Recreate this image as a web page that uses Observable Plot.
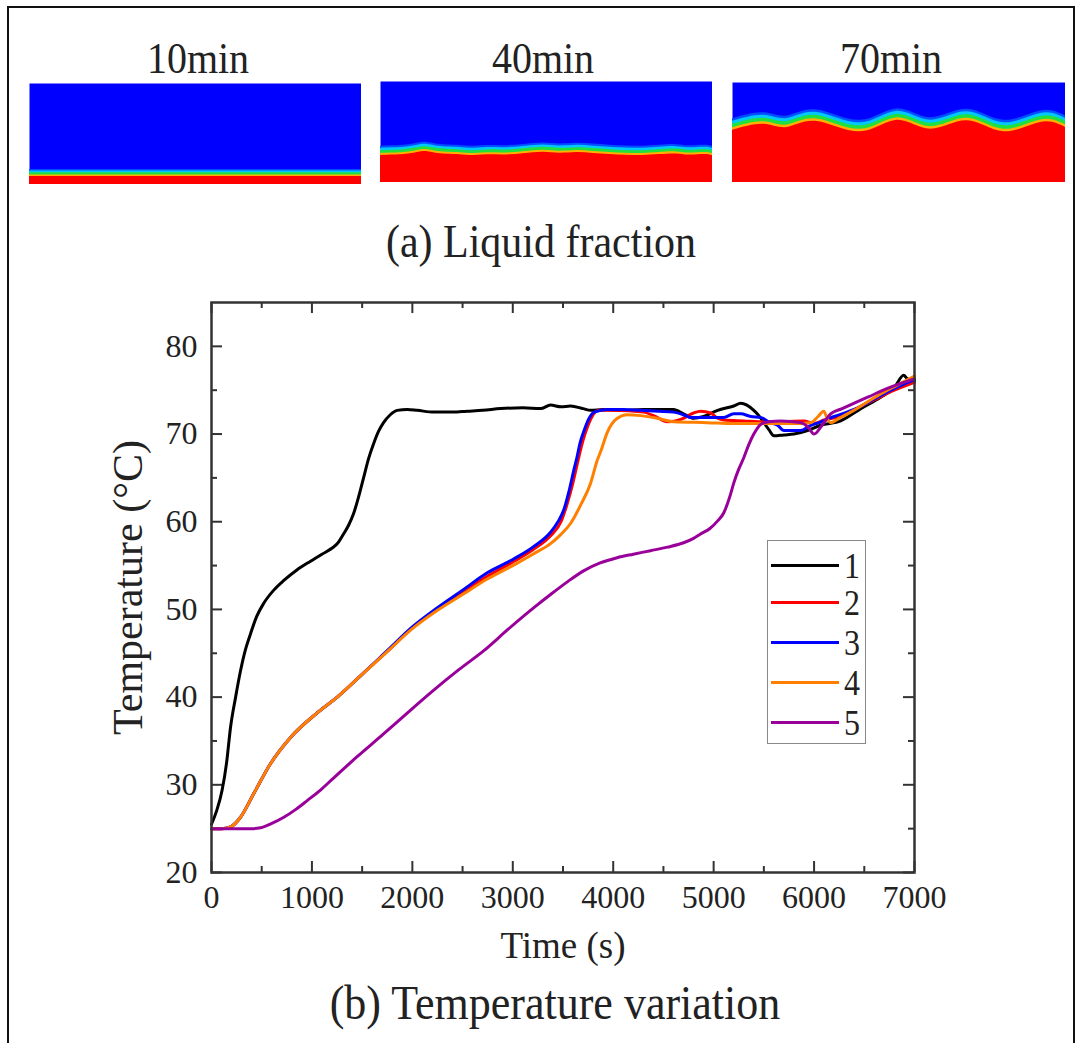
<!DOCTYPE html>
<html><head><meta charset="utf-8">
<script src="https://cdn.jsdelivr.net/npm/d3@7"></script>
<script src="https://cdn.jsdelivr.net/npm/@observablehq/plot@0.6"></script>
<style>
html,body{margin:0;padding:0;background:#fff;}
#page{position:relative;width:1083px;height:1043px;overflow:hidden;font-family:"Liberation Serif","Times New Roman",serif;color:#222;}
.border{position:absolute;left:7px;top:6px;width:1068px;height:1100px;border:2.5px solid #111;box-sizing:border-box;}
.lbl{position:absolute;transform:translate(-50%,-50%) scaleY(1.12);white-space:nowrap;line-height:1;}
.abs{position:absolute;}
</style></head><body><div id="page"><div class="border"></div></div>
<script>
// ---------- data: liquid fraction panels ----------
const panelTitles = ["10min", "40min", "70min"];
const front10X = [0, 1];
const front10H = [0.08, 0.08];
const front40X = [0, 0.04, 0.07, 0.10, 0.13, 0.16, 0.19, 0.23, 0.27, 0.32, 0.37, 0.43, 0.49, 0.54, 0.59, 0.64, 0.69, 0.74, 0.79, 0.84, 0.89, 0.93, 0.975, 1];
const front40H = [0.267, 0.272, 0.277, 0.29, 0.307, 0.295, 0.283, 0.276, 0.267, 0.275, 0.273, 0.285, 0.300, 0.29, 0.297, 0.288, 0.277, 0.27, 0.267, 0.276, 0.283, 0.272, 0.277, 0.267];
const front70X = [0, 0.094, 0.164, 0.254, 0.384, 0.495, 0.595, 0.705, 0.815, 0.925, 1];
const front70H = [0.523, 0.583, 0.55, 0.61, 0.507, 0.623, 0.533, 0.617, 0.507, 0.6, 0.55];
const bandWidth = [0.06, 0.08, 0.10];
const bandLayers = [
  {k: 1.15, color: "#0050ff"},
  {k: 0.9, color: "#00c8ff"},
  {k: 0.6, color: "#20e040"},
  {k: 0.25, color: "#ffb000"}
];

// ---------- data: temperature curves ----------
const seriesNames = ["1", "2", "3", "4", "5"];
const seriesColors = ["#000000", "#ff0000", "#0000ff", "#ff8000", "#990099"];

const t1 = [0,50,106,150,190,240,289,340,388,450,520,620,720,850,986,1100,1202,1260,1315,1365,1414,1464,1514,1564,1614,1663,1713,1780,1849,1950,2049,2213,2400,2546,2700,2878,3100,3277,3376,3480,3575,3700,3775,3900,4100,4300,4600,4700,4800,4900,5040,5200,5270,5400,5450,5500,5550,5600,5700,5800,5935,6066,6265,6465,6663,6800,6892,6930,7000];
const T1 = [25.5,27.0,29.4,32.5,36.6,40.0,43.0,45.5,47.2,49.2,50.7,52.2,53.3,54.5,55.5,56.3,57.0,57.6,58.6,59.6,60.9,62.8,65.0,67.2,68.9,70.3,71.3,72.2,72.7,72.8,72.7,72.5,72.5,72.6,72.7,72.9,73.0,72.9,73.3,73.1,73.2,72.9,72.7,72.8,72.7,72.8,72.8,72.3,71.8,72.0,72.7,73.2,73.5,72.7,72.1,71.3,70.5,69.8,69.9,70.0,70.4,71.0,71.5,72.9,74.2,75.3,76.7,76.3,76.1];

const t2 = [0,100,190,289,421,587,787,1052,1252,1500,1750,2000,2250,2500,2750,3000,3200,3376,3480,3540,3600,3650,3700,3750,3800,3860,4000,4300,4420,4538,4680,4800,4870,4970,5040,5100,5300,5500,5700,5896,6000,6100,6250,6400,6600,6800,7000];
const T2 = [25,25,25.2,26.3,29.0,32.4,35.4,38.2,40.0,42.6,45.2,47.9,50.0,51.9,53.8,55.4,56.8,58.4,60.0,62.0,64.5,67.0,69.3,71.0,72.2,72.7,72.7,72.5,72.0,71.4,71.7,72.4,72.6,72.4,71.8,71.6,71.5,71.4,71.4,71.5,71.2,71.6,72.0,72.8,73.9,75.0,75.9];

const t3 = [0,100,190,289,421,587,787,1052,1252,1500,1750,2000,2250,2500,2750,3000,3200,3376,3450,3506,3560,3606,3642,3670,3710,3760,3810,3941,4100,4273,4450,4600,4700,4770,4937,5100,5200,5270,5370,5468,5560,5637,5700,5866,5966,6050,6200,6400,6600,6800,7000];
const T3 = [25,25,25.2,26.3,29.0,32.4,35.4,38.2,40.0,42.6,45.3,48.0,50.2,52.2,54.2,55.7,57.1,58.8,60.0,61.3,63.5,65.8,67.5,69.0,70.4,71.8,72.5,72.8,72.8,72.7,72.6,72.5,72.2,71.9,71.9,71.9,72.3,72.3,72.0,71.9,71.3,71.0,70.4,70.4,71.0,71.3,72.0,72.8,74.0,75.2,76.2];

const t4 = [0,100,190,289,421,587,787,1052,1252,1500,1750,2000,2250,2500,2750,3000,3200,3376,3475,3575,3680,3775,3841,3875,3941,4041,4140,4273,4439,4600,4937,5200,5500,5800,5966,6040,6096,6130,6165,6250,6395,6550,6730,6900,7000];
const T4 = [25,25,25.2,26.3,29.0,32.4,35.4,38.2,40.0,42.6,45.2,47.8,49.9,51.7,53.5,55.0,56.3,57.5,58.5,59.8,62.0,64.4,67.0,68.0,70.2,71.8,72.2,72.1,71.8,71.4,71.3,71.2,71.2,71.2,71.3,72.0,72.6,71.8,71.3,71.8,72.7,73.8,75.0,76.0,76.6];

const t5 = [0,200,400,488,600,720,840,953,1085,1218,1450,1713,1960,2213,2460,2712,2960,3210,3376,3550,3705,3870,4039,4200,4372,4540,4701,4800,4870,4960,5040,5100,5139,5170,5200,5250,5300,5350,5400,5468,5550,5667,5866,5940,6000,6080,6165,6280,6395,6534,6730,6870,7000];
const T5 = [25,25,25,25.1,25.6,26.3,27.2,28.2,29.4,30.8,33.2,35.8,38.3,40.8,43.1,45.3,47.8,50.2,51.7,53.2,54.4,55.3,55.9,56.3,56.7,57.1,57.6,58.1,58.6,59.2,60.1,61.0,62.1,63.2,64.4,66.0,67.3,68.8,70.0,71.1,71.4,71.5,71.3,70.8,70.0,71.0,72.3,72.9,73.5,74.2,75.2,75.8,76.3];

const seriesT = [t1, t2, t3, t4, t5];
const seriesV = [T1, T2, T3, T4, T5];

const xMajor = [0,1000,2000,3000,4000,5000,6000,7000];
const xMinor = [500,1500,2500,3500,4500,5500,6500];
const yMajor = [20,30,40,50,60,70,80];
const yMinor = [25,35,45,55,65,75];

const page = document.getElementById("page");
function addLabel(text, cx, cy, size) {
  const d = document.createElement("div");
  d.className = "lbl";
  d.textContent = text;
  d.style.left = cx + "px"; d.style.top = cy + "px"; d.style.fontSize = size + "px";
  page.appendChild(d);
}

// ---------- panels ----------
const fronts = [[front10X, front10H], [front40X, front40H], [front70X, front70H]];
const panelBox = [[29, 83, 332, 101], [380, 81, 332, 101], [732, 82, 333, 100]];
const titleX = [198, 543, 891];
fronts.forEach(([xs, hs], i) => {
  const data = xs.map((x, j) => ({x, h: hs[j]}));
  const bw = bandWidth[i];
  const p = Plot.plot({
    width: panelBox[i][2], height: panelBox[i][3], margin: 0,
    x: {domain: [0, 1], axis: null}, y: {domain: [0, 1], axis: null},
    style: {background: "transparent"},
    marks: [
      Plot.frame({fill: "#0000ff", stroke: null}),
      ...bandLayers.map(L => Plot.areaY(data, {x: "x", y: d => d.h + L.k * bw, fill: L.color, curve: "natural"})),
      Plot.areaY(data, {x: "x", y: "h", fill: "#ff0000", curve: "natural"})
    ]
  });
  p.classList.add("abs");
  p.style.left = panelBox[i][0] + "px"; p.style.top = panelBox[i][1] + "px";
  page.appendChild(p);
  addLabel(panelTitles[i], titleX[i], 58, 40);
});
addLabel("(a) Liquid fraction", 541, 241, 42);

// ---------- temperature chart ----------
const rows = [];
seriesNames.forEach((s, i) => seriesT[i].forEach((t, j) => rows.push({s, t, T: seriesV[i][j]})));

const W = 1083, H = 720, mL = 211, mR = 169, mT = 22, mB = 128;
const iW = W - mL - mR, iH = H - mT - mB;
const axisColor = "#333";
const chart = Plot.plot({
  width: W, height: H, marginLeft: mL, marginRight: mR, marginTop: mT, marginBottom: mB,
  style: {fontFamily: "Liberation Serif, Times New Roman, serif", fontSize: "32px", color: "#222", background: "transparent", overflow: "visible"},
  x: {domain: [0, 7000]},
  y: {domain: [20, 85]},
  color: {domain: seriesNames, range: seriesColors},
  marks: [
    Plot.axisX({ticks: xMajor, tickSize: 0, tickPadding: 13, tickFormat: d => String(d), label: null}),
    Plot.axisY({ticks: yMajor, tickSize: 0, tickPadding: 14, tickFormat: d => String(d), label: null}),
    Plot.tickX(xMajor, {x: d => d, insetTop: iH - 11, stroke: axisColor, strokeWidth: 2}),
    Plot.tickX(xMajor, {x: d => d, insetBottom: iH - 11, stroke: axisColor, strokeWidth: 2}),
    Plot.tickX(xMinor, {x: d => d, insetTop: iH - 6, stroke: axisColor, strokeWidth: 2}),
    Plot.tickX(xMinor, {x: d => d, insetBottom: iH - 6, stroke: axisColor, strokeWidth: 2}),
    Plot.tickY(yMajor, {y: d => d, insetRight: iW - 11, stroke: axisColor, strokeWidth: 2}),
    Plot.tickY(yMajor, {y: d => d, insetLeft: iW - 11, stroke: axisColor, strokeWidth: 2}),
    Plot.tickY(yMinor, {y: d => d, insetRight: iW - 6, stroke: axisColor, strokeWidth: 2}),
    Plot.tickY(yMinor, {y: d => d, insetLeft: iW - 6, stroke: axisColor, strokeWidth: 2}),
    Plot.line(rows, {x: "t", y: "T", z: "s", stroke: "s", strokeWidth: 3, curve: "monotone-x"}),
    Plot.frame({stroke: axisColor, strokeWidth: 2.5}),
    Plot.text(["Temperature (°C)"], {frameAnchor: "left", textAnchor: "middle", dx: -83, rotate: -90, fontSize: 42, fill: "#222"}),
    Plot.text(["Time (s)"], {frameAnchor: "bottom", textAnchor: "middle", dy: 85, fontSize: 37, fill: "#222"})
  ]
});
chart.classList.add("abs");
chart.style.left = "0px"; chart.style.top = "280px";
page.appendChild(chart);

// legend
const leg = document.createElement("div");
leg.className = "abs";
Object.assign(leg.style, {left: "767px", top: "540px", width: "99px", height: "204px", border: "1.5px solid #888", background: "#fff", boxSizing: "border-box"});
const legY = [26, 63, 103, 143, 183];
seriesNames.forEach((s, i) => {
  const ln = document.createElement("div");
  Object.assign(ln.style, {position: "absolute", left: "3px", top: (legY[i] - 3) + "px", width: "68px", height: "3px", background: seriesColors[i]});
  leg.appendChild(ln);
  const tx = document.createElement("div");
  tx.textContent = s;
  Object.assign(tx.style, {position: "absolute", left: "84px", top: (legY[i] - 1.5) + "px", transform: "translate(-50%,-50%) scaleY(1.1)", fontSize: "32px", lineHeight: "1"});
  leg.appendChild(tx);
});
page.appendChild(leg);

addLabel("(b) Temperature variation", 555, 1003, 44);
</script></body></html>
